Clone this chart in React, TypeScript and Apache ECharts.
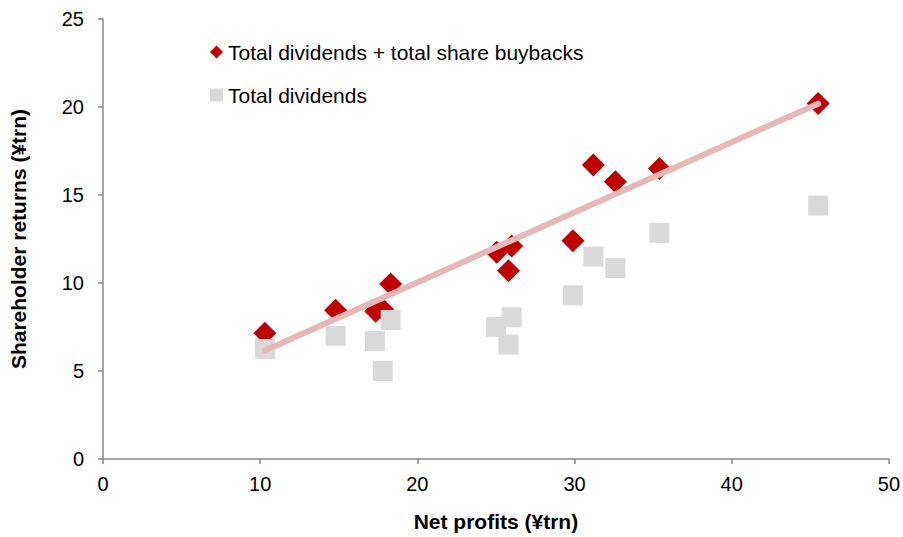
import React, { useEffect, useRef } from "react";
import * as echarts from "echarts";

const netProfits = [10.3, 14.8, 17.35, 17.8, 18.3, 25.05, 26.0, 25.8, 29.9, 31.2, 32.6, 35.4, 45.5];
const totalReturns = [7.15, 8.45, 8.4, 8.5, 9.95, 11.75, 12.1, 10.7, 12.4, 16.7, 15.75, 16.5, 20.2];
const dividendsX = [10.3, 14.8, 17.3, 17.8, 18.3, 25.0, 26.0, 25.8, 29.9, 31.2, 32.6, 35.4, 45.5];
const dividends = [6.25, 7.0, 6.7, 5.0, 7.9, 7.5, 8.05, 6.5, 9.3, 11.5, 10.85, 12.85, 14.4];
const trendX = [10.3, 45.5];
const trendY = [6.17, 20.19];
const xTicks = [0, 10, 20, 30, 40, 50];
const yTicks = [0, 5, 10, 15, 20, 25];

const seriesNames = ["Total dividends + total share buybacks", "Total dividends"];

export default function App() {
  const ref = useRef<HTMLDivElement>(null);
  useEffect(() => {
    if (!ref.current) return;
    const chart = echarts.init(ref.current, undefined, { renderer: "svg" });
    const font = "'Liberation Sans', Arial, sans-serif";
    const axisColor = "#898989";
    chart.setOption({
      animation: false,
      textStyle: { fontFamily: font },
      grid: { left: 103, right: 12, top: 19, bottom: 78, containLabel: false },
      legend: {
        orient: "vertical",
        left: 205,
        top: 36,
        itemGap: 21,
        itemWidth: 13,
        itemHeight: 13,
        textStyle: { fontSize: 21, lineHeight: 22, color: "#000", fontFamily: font },
        data: [
          { name: seriesNames[0], icon: "diamond" },
          { name: seriesNames[1], icon: "rect" },
        ],
      },
      xAxis: {
        type: "value",
        min: xTicks[0],
        max: xTicks[xTicks.length - 1],
        interval: 10,
        name: "Net profits (¥trn)",
        nameLocation: "middle",
        nameGap: 52,
        nameTextStyle: { fontSize: 21, fontWeight: "bold", color: "#000", fontFamily: font },
        axisLine: { lineStyle: { color: axisColor, width: 1.5 } },
        axisTick: { show: true, length: 5, lineStyle: { color: axisColor, width: 1.5 } },
        axisLabel: { fontSize: 20, color: "#000", margin: 15, fontFamily: font },
        splitLine: { show: false },
      },
      yAxis: {
        type: "value",
        min: yTicks[0],
        max: yTicks[yTicks.length - 1],
        interval: 5,
        name: "Shareholder returns (¥trn)",
        nameLocation: "middle",
        nameGap: 74,
        nameTextStyle: { fontSize: 21, fontWeight: "bold", color: "#000", fontFamily: font },
        axisLine: { show: true, lineStyle: { color: axisColor, width: 1.5 } },
        axisTick: { show: true, length: 5, lineStyle: { color: axisColor, width: 1.5 } },
        axisLabel: { fontSize: 20, color: "#000", margin: 19, fontFamily: font },
        splitLine: { show: false },
      },
      series: [
        {
          name: seriesNames[0],
          type: "scatter",
          symbol: "diamond",
          symbolSize: 23,
          itemStyle: { color: "#c00000", opacity: 1 },
          data: netProfits.map((x, i) => [x, totalReturns[i]]),
          z: 2,
        },
        {
          name: seriesNames[1],
          type: "scatter",
          symbol: "rect",
          symbolSize: 20,
          itemStyle: { color: "#d9d9d9", opacity: 1 },
          data: dividendsX.map((x, i) => [x, dividends[i]]),
          z: 3,
        },
        {
          name: "Trend",
          type: "line",
          symbol: "none",
          silent: true,
          lineStyle: { color: "#e6b8b7", width: 6, cap: "round" },
          data: trendX.map((x, i) => [x, trendY[i]]),
          z: 4,
        },
      ],
    });
    return () => chart.dispose();
  }, []);
  return <div ref={ref} style={{ width: 903, height: 537, position: "absolute", left: 0, top: 0 }} />;
}
